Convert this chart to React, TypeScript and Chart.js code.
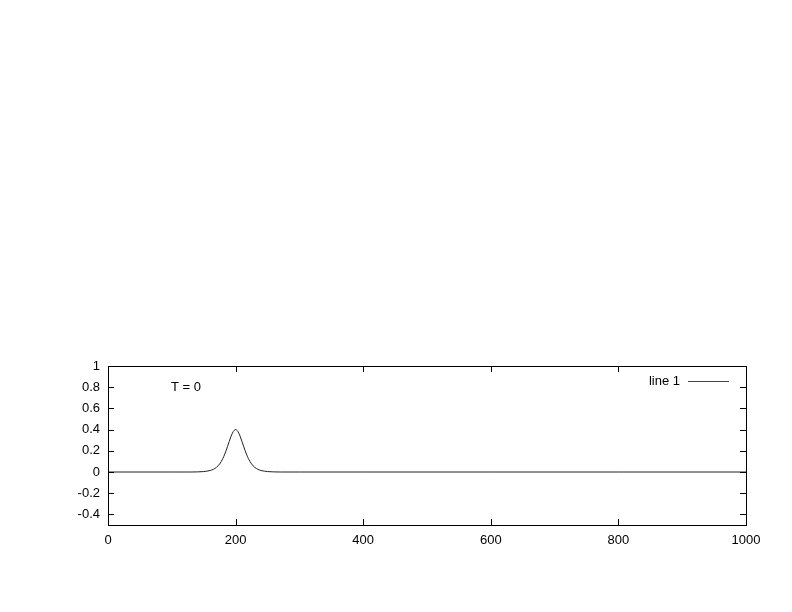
import React, { useEffect, useRef } from "react";
import { Chart, registerables } from "chart.js";

Chart.register(...registerables);

const xValues = [0, 100, 130, 140, 150, 155, 160, 165, 170, 175, 180, 182.5, 185, 187.5, 190, 192.5, 195, 197.5, 200, 202.5, 205, 207.5, 210, 212.5, 215, 217.5, 220, 225, 230, 235, 240, 245, 250, 260, 270, 300, 400, 600, 800, 1000];
const yValues = [0, 0, 0, 0.001, 0.004, 0.008, 0.014, 0.025, 0.044, 0.076, 0.127, 0.161, 0.200, 0.243, 0.288, 0.331, 0.367, 0.391, 0.4, 0.391, 0.367, 0.331, 0.288, 0.243, 0.200, 0.161, 0.127, 0.076, 0.044, 0.025, 0.014, 0.008, 0.004, 0.001, 0, 0, 0, 0, 0, 0];
const xTicks = [0, 200, 400, 600, 800, 1000];
const yTicks = [-0.4, -0.2, 0, 0.2, 0.4, 0.6, 0.8, 1];
const seriesLabel = "line 1";
const annotationText = "T = 0";

const FONT = "Liberation Sans, Arial, sans-serif";
const FSIZE = 13;

const framePlugin = {
  id: "gnuFrame",
  afterDraw(chart: any) {
    const { ctx, chartArea } = chart;
    const { left, right, top, bottom } = chartArea;
    const xs = chart.scales.x;
    const ys = chart.scales.y;
    const tl = 6;
    ctx.save();
    ctx.strokeStyle = "#000";
    ctx.lineWidth = 1;
    ctx.beginPath();
    xTicks.forEach((v) => {
      const px = Math.round(xs.getPixelForValue(v)) + 0.5;
      ctx.moveTo(px, bottom);
      ctx.lineTo(px, bottom - tl);
      ctx.moveTo(px, top);
      ctx.lineTo(px, top + tl);
    });
    yTicks.forEach((v) => {
      const py = Math.round(ys.getPixelForValue(v)) + 0.5;
      ctx.moveTo(left, py);
      ctx.lineTo(left + tl, py);
      ctx.moveTo(right, py);
      ctx.lineTo(right - tl, py);
    });
    ctx.stroke();
    ctx.strokeRect(Math.round(left) + 0.5, Math.round(top) + 0.5, Math.round(right - left), Math.round(bottom - top));

    // annotation
    ctx.fillStyle = "#000";
    ctx.font = `${FSIZE}px ${FONT}`;
    ctx.textBaseline = "middle";
    ctx.textAlign = "left";
    ctx.fillText(annotationText, 171, 387);

    // legend
    const label = chart.data.datasets[0].label;
    ctx.textAlign = "right";
    ctx.fillText(label, 680, 381);
    ctx.strokeStyle = "#444";
    ctx.beginPath();
    ctx.moveTo(688, 381.5);
    ctx.lineTo(729, 381.5);
    ctx.stroke();
    ctx.restore();
  },
};

export default function App() {
  const ref = useRef<HTMLCanvasElement>(null);
  useEffect(() => {
    document.body.style.margin = "0";
    const chart = new Chart(ref.current!, {
      type: "line",
      data: {
        datasets: [
          {
            label: seriesLabel,
            data: xValues.map((x, i) => ({ x, y: yValues[i] })),
            borderColor: "#222",
            borderWidth: 1,
            pointRadius: 0,
            fill: false,
            cubicInterpolationMode: "monotone",
          },
        ],
      },
      options: {
        animation: false,
        responsive: false,
        layout: { padding: { top: 366, right: 46, left: 0, bottom: 0 } },
        plugins: { legend: { display: false }, tooltip: { enabled: false } },
        scales: {
          x: {
            type: "linear",
            min: 0,
            max: 1000,
            grid: { display: false, drawTicks: false },
            border: { display: false },
            afterBuildTicks: (s: any) => {
              s.ticks = xTicks.map((v) => ({ value: v }));
            },
            afterFit: (s: any) => {
              s.height = 87;
            },
            ticks: {
              padding: 8,
              color: "#000",
              font: { family: FONT, size: FSIZE },
              maxRotation: 0,
              autoSkip: false,
              callback: (v: any) => String(v),
            },
          },
          y: {
            type: "linear",
            min: -0.5,
            max: 1,
            grid: { display: false, drawTicks: false },
            border: { display: false },
            afterBuildTicks: (s: any) => {
              s.ticks = yTicks.map((v) => ({ value: v }));
            },
            afterFit: (s: any) => {
              s.width = 108;
            },
            ticks: {
              padding: 8,
              color: "#000",
              font: { family: FONT, size: FSIZE },
              autoSkip: false,
              callback: (v: any) => String(Math.round(Number(v) * 10) / 10),
            },
          },
        },
      },
      plugins: [framePlugin],
    });
    return () => chart.destroy();
  }, []);
  return (
    <div style={{ position: "absolute", left: 0, top: 0, width: 792, height: 612, background: "#fff" }}>
      <canvas ref={ref} width={792} height={612} style={{ width: 792, height: 612 }} />
    </div>
  );
}
